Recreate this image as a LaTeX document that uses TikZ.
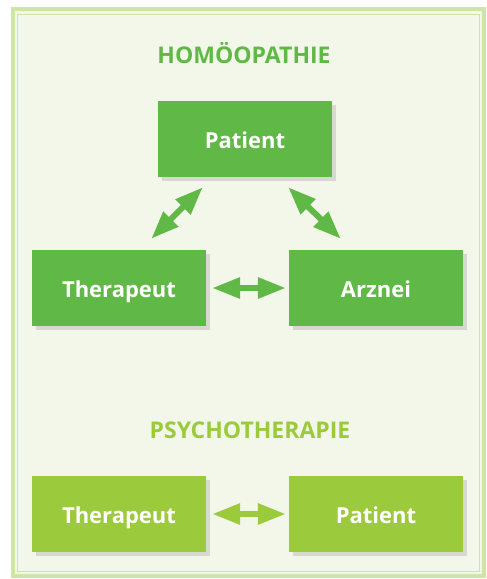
\documentclass[tikz,border=0pt]{standalone}
\usepackage{fontspec}
\setmainfont{Open Sans}
\usetikzlibrary{arrows.meta,shadows}

\definecolor{darkgreen}{RGB}{96,185,70}
\definecolor{lightgreen}{RGB}{155,202,60}
\definecolor{paper}{RGB}{243,247,234}
\definecolor{rim}{RGB}{205,230,168}

\begin{document}
\begin{tikzpicture}[x=1pt,y=-1pt,
	box/.style={minimum width=174pt,minimum height=76pt,inner sep=0pt,text=white,
		text height=18pt,text depth=0pt,
		font=\fontsize{22}{26}\selectfont\bfseries,
		drop shadow={shadow xshift=4pt,shadow yshift=-4pt,opacity=.25}},
	title/.style={anchor=base,font=\fontsize{23}{27}\selectfont\bfseries},
	both/.style={line width=6pt,{Triangle[width=20pt,length=28pt]}-{Triangle[width=20pt,length=28pt]}}]

\useasboundingbox (0,0) rectangle (487,579);

%Frame round the whole picture
	\draw [line width=4pt,draw=rim,fill=paper] (13,9) rectangle (484,576);
	\draw [line width=1pt,draw=rim] (17.5,14.5) rectangle (479.5,571.5);

%Upper part: the triangle
	\node [title,text=darkgreen] (homtitle) at (244,63) {HOMÖOPATHIE};
	\node [box,fill=darkgreen] (hompatient) at (245,139) {Patient};
	\node [box,fill=darkgreen] (homtherapeut) at (119,288) {Therapeut};
	\node [box,fill=darkgreen] (homarznei) at (376,288) {Arznei};

%Lower part: the pair
	\node [title,text=lightgreen] (psytitle) at (250,438) {PSYCHOTHERAPIE};
	\node [box,fill=lightgreen] (psytherapeut) at (119,514) {Therapeut};
	\node [box,fill=lightgreen] (psypatient) at (376,514) {Patient};

%Double arrows between the boxes
	\draw [both,darkgreen] ([xshift=45pt,yshift=-10pt]hompatient.south west) -- ([xshift=-55pt,yshift=11pt]homtherapeut.north east);
	\draw [both,darkgreen] ([xshift=-44pt,yshift=-10pt]hompatient.south east) -- ([xshift=52pt,yshift=11pt]homarznei.north west);
	\foreach \from/\to/\col in {homtherapeut/homarznei/darkgreen,psytherapeut/psypatient/lightgreen}
		\draw [both,\col,shorten <=6pt,shorten >=3pt] (\from.east) -- (\to.west);

\end{tikzpicture}
\end{document}
